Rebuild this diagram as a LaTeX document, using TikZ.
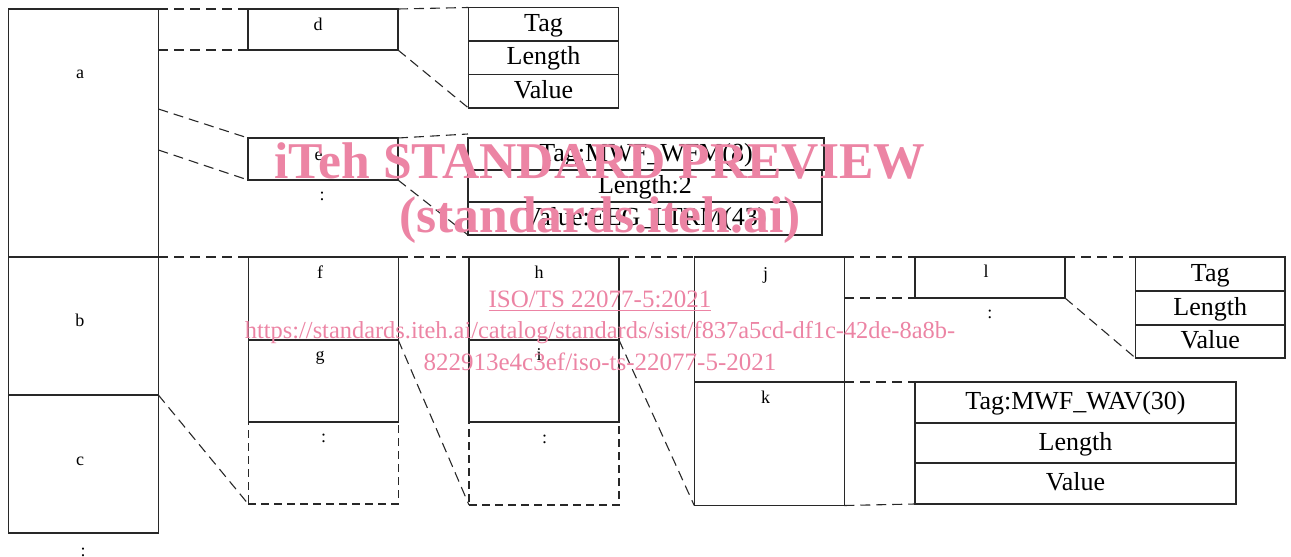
\documentclass[tikz,border=0pt]{standalone}
\usepackage{fontspec}
\setmainfont{Liberation Serif}
\usetikzlibrary{positioning}
\definecolor{WmPink}{RGB}{236,132,164}
\definecolor{BoxLine}{RGB}{40,40,40}

\begin{document}
\begin{tikzpicture}[x=0.5pt,y=-0.5pt,
  blk/.style={draw=BoxLine,line width=0.75pt,minimum width=75pt,inner sep=0pt,outer sep=0pt},
  dashblk/.style={blk,dash pattern=on 4pt off 2.5pt},
  tlv/.style={draw=BoxLine,line width=0.75pt,inner sep=0pt,outer sep=0pt,
    text height=0.7em,text depth=0em,font=\fontsize{13}{15}\selectfont},
  lbl/.style={font=\fontsize{9}{10}\selectfont,anchor=base,inner sep=0pt},
  link/.style={draw=BoxLine,line width=0.55pt,dash pattern=on 5pt off 3pt},
  wm/.style={text=WmPink,anchor=base,inner sep=0pt}]
\useasboundingbox (0,0) rectangle (1291,557);

% left column
\node[blk,minimum height=124pt] (a) at (83.35,133) {};
\node[blk,minimum height=69pt,below=0pt of a] (b) {};
\node[blk,minimum height=69pt,below=0pt of b] (c) {};
\node[lbl] (la) at (80,78) {a};
\node[lbl] (lb) at (80,326) {b};
\node[lbl] (lc) at (80,465) {c};
\node[lbl] (dotsc) at (83,556) {:};

% second column
\node[blk,minimum height=20.5pt] (d) at (323,29.5) {};
\node[blk,minimum height=21pt] (e) at (323,159) {};
\node[blk,minimum height=41.5pt] (f) at (323.25,298.5) {};
\node[blk,minimum height=41pt,below=0pt of f] (g) {};
\node[dashblk,minimum height=41pt,below=0pt of g] (fg) {};
\node[lbl] (ld) at (318,30) {d};
\node[lbl] (le) at (318.5,160) {e};
\node[lbl] (dotse) at (322,200) {:};
\node[lbl] (lf) at (320,278) {f};
\node[lbl] (lg) at (320,360) {g};
\node[lbl] (dotsg) at (323.5,442) {:};

% third column
\node[blk,minimum height=41.5pt] (h) at (544,298.5) {};
\node[blk,minimum height=41pt,below=0pt of h] (i) {};
\node[dashblk,minimum height=41.5pt,below=0pt of i] (hi) {};
\node[lbl] (lh) at (539,278) {h};
\node[lbl] (li) at (539,360) {i};
\node[lbl] (dotsi) at (544.5,443) {:};

% fourth column
\node[blk,minimum height=62.5pt] (j) at (769.25,319.5) {};
\node[blk,minimum height=61.75pt,below=0pt of j] (k) {};
\node[lbl] (lj) at (765.6,279) {j};
\node[lbl] (lk) at (765.6,403) {k};
\node[blk,minimum height=20.5pt] (l) at (990,277.5) {};
\node[lbl] (ll) at (986,277) {l};
\node[lbl] (dotsl) at (989.8,318) {:};

% TLV tables
\node[tlv,minimum width=75pt,minimum height=16.75pt] (tlvA1) at (543.5,24.25) {Tag};
\node[tlv,minimum width=75pt,minimum height=16.75pt,below=0pt of tlvA1] (tlvA2) {Length};
\node[tlv,minimum width=75pt,minimum height=16.75pt,below=0pt of tlvA2] (tlvA3) {Value};

\node[tlv,minimum width=178pt,minimum height=16pt] (tlvB1) at (646,154) {Tag:MWF\_WFM(8)};
\node[tlv,minimum width=177pt,minimum height=16pt] (tlvB2) at (645,186) {Length:2};
\node[tlv,minimum width=177pt,minimum height=16.5pt] (tlvB3) at (645,218.5) {Value:EEG\_LTRM(43)};

\node[tlv,minimum width=74.75pt,minimum height=17pt] (tlvC1) at (1210.25,274) {Tag};
\node[tlv,minimum width=74.75pt,minimum height=17pt,below=0pt of tlvC1] (tlvC2) {Length};
\node[tlv,minimum width=74.75pt,minimum height=16.5pt,below=0pt of tlvC2] (tlvC3) {Value};

\node[tlv,minimum width=160.5pt,minimum height=20.5pt] (tlvD1) at (1075.5,402.5) {Tag:MWF\_WAV(30)};
\node[tlv,minimum width=160.5pt,minimum height=20pt,below=0pt of tlvD1] (tlvD2) {Length};
\node[tlv,minimum width=160.5pt,minimum height=20.5pt,below=0pt of tlvD2] (tlvD3) {Value};

% expansion lines
\coordinate (a1) at (158.4,109);
\coordinate (a2) at (158.4,150);
\coordinate (tlvBtop) at ([yshift=2pt]tlvB1.north west);
\draw[link] (a.north east) -- (d.north west);
\draw[link] (d.south west -| a.east) -- (d.south west);
\draw[link] (d.north east) -- (tlvA1.north west);
\draw[link] (d.south east) -- (tlvA3.south west);
\draw[link] (a1) -- (e.north west);
\draw[link] (a2) -- (e.south west);
\draw[link] (e.north east) -- (tlvBtop);
\draw[link] (e.south east) -- (tlvB3.south west);
\draw[link] (b.north east) -- (f.north west);
\draw[link] (f.north east) -- (h.north west);
\draw[link] (h.north east) -- (j.north west);
\draw[link] (j.north east) -- (l.north west);
\draw[link] (l.north east) -- (tlvC1.north west);
\draw[link] (c.north east) -- (fg.south west);
\draw[link] (g.north east) -- (hi.south west);
\draw[link] (i.north east) -- (k.south west);
\draw[link] (l.south west -| j.east) -- (l.south west);
\draw[link] (l.south east) -- (tlvC3.south west);
\draw[link] (k.north east) -- (tlvD1.north west);
\draw[link] (k.south east) -- (tlvD3.south west);

% watermark
\node[wm,font=\fontsize{25.8}{30}\selectfont\bfseries] (wm1) at (600,178) {iTeh STANDARD PREVIEW};
\node[wm,font=\fontsize{25.8}{30}\selectfont\bfseries] (wm2) at (600,232) {(standards.iteh.ai)};
\node[wm,font=\fontsize{12.5}{14}\selectfont] (wm3) at (600,307) {\underline{ISO/TS 22077-5:2021}};
\node[wm,font=\fontsize{12.2}{14}\selectfont] (wm4) at (600,338) {https://standards.iteh.ai/catalog/standards/sist/f837a5cd-df1c-42de-8a8b-};
\node[wm,font=\fontsize{12.5}{14}\selectfont] (wm5) at (600,370) {822913e4c3ef/iso-ts-22077-5-2021};
\end{tikzpicture}
\end{document}
